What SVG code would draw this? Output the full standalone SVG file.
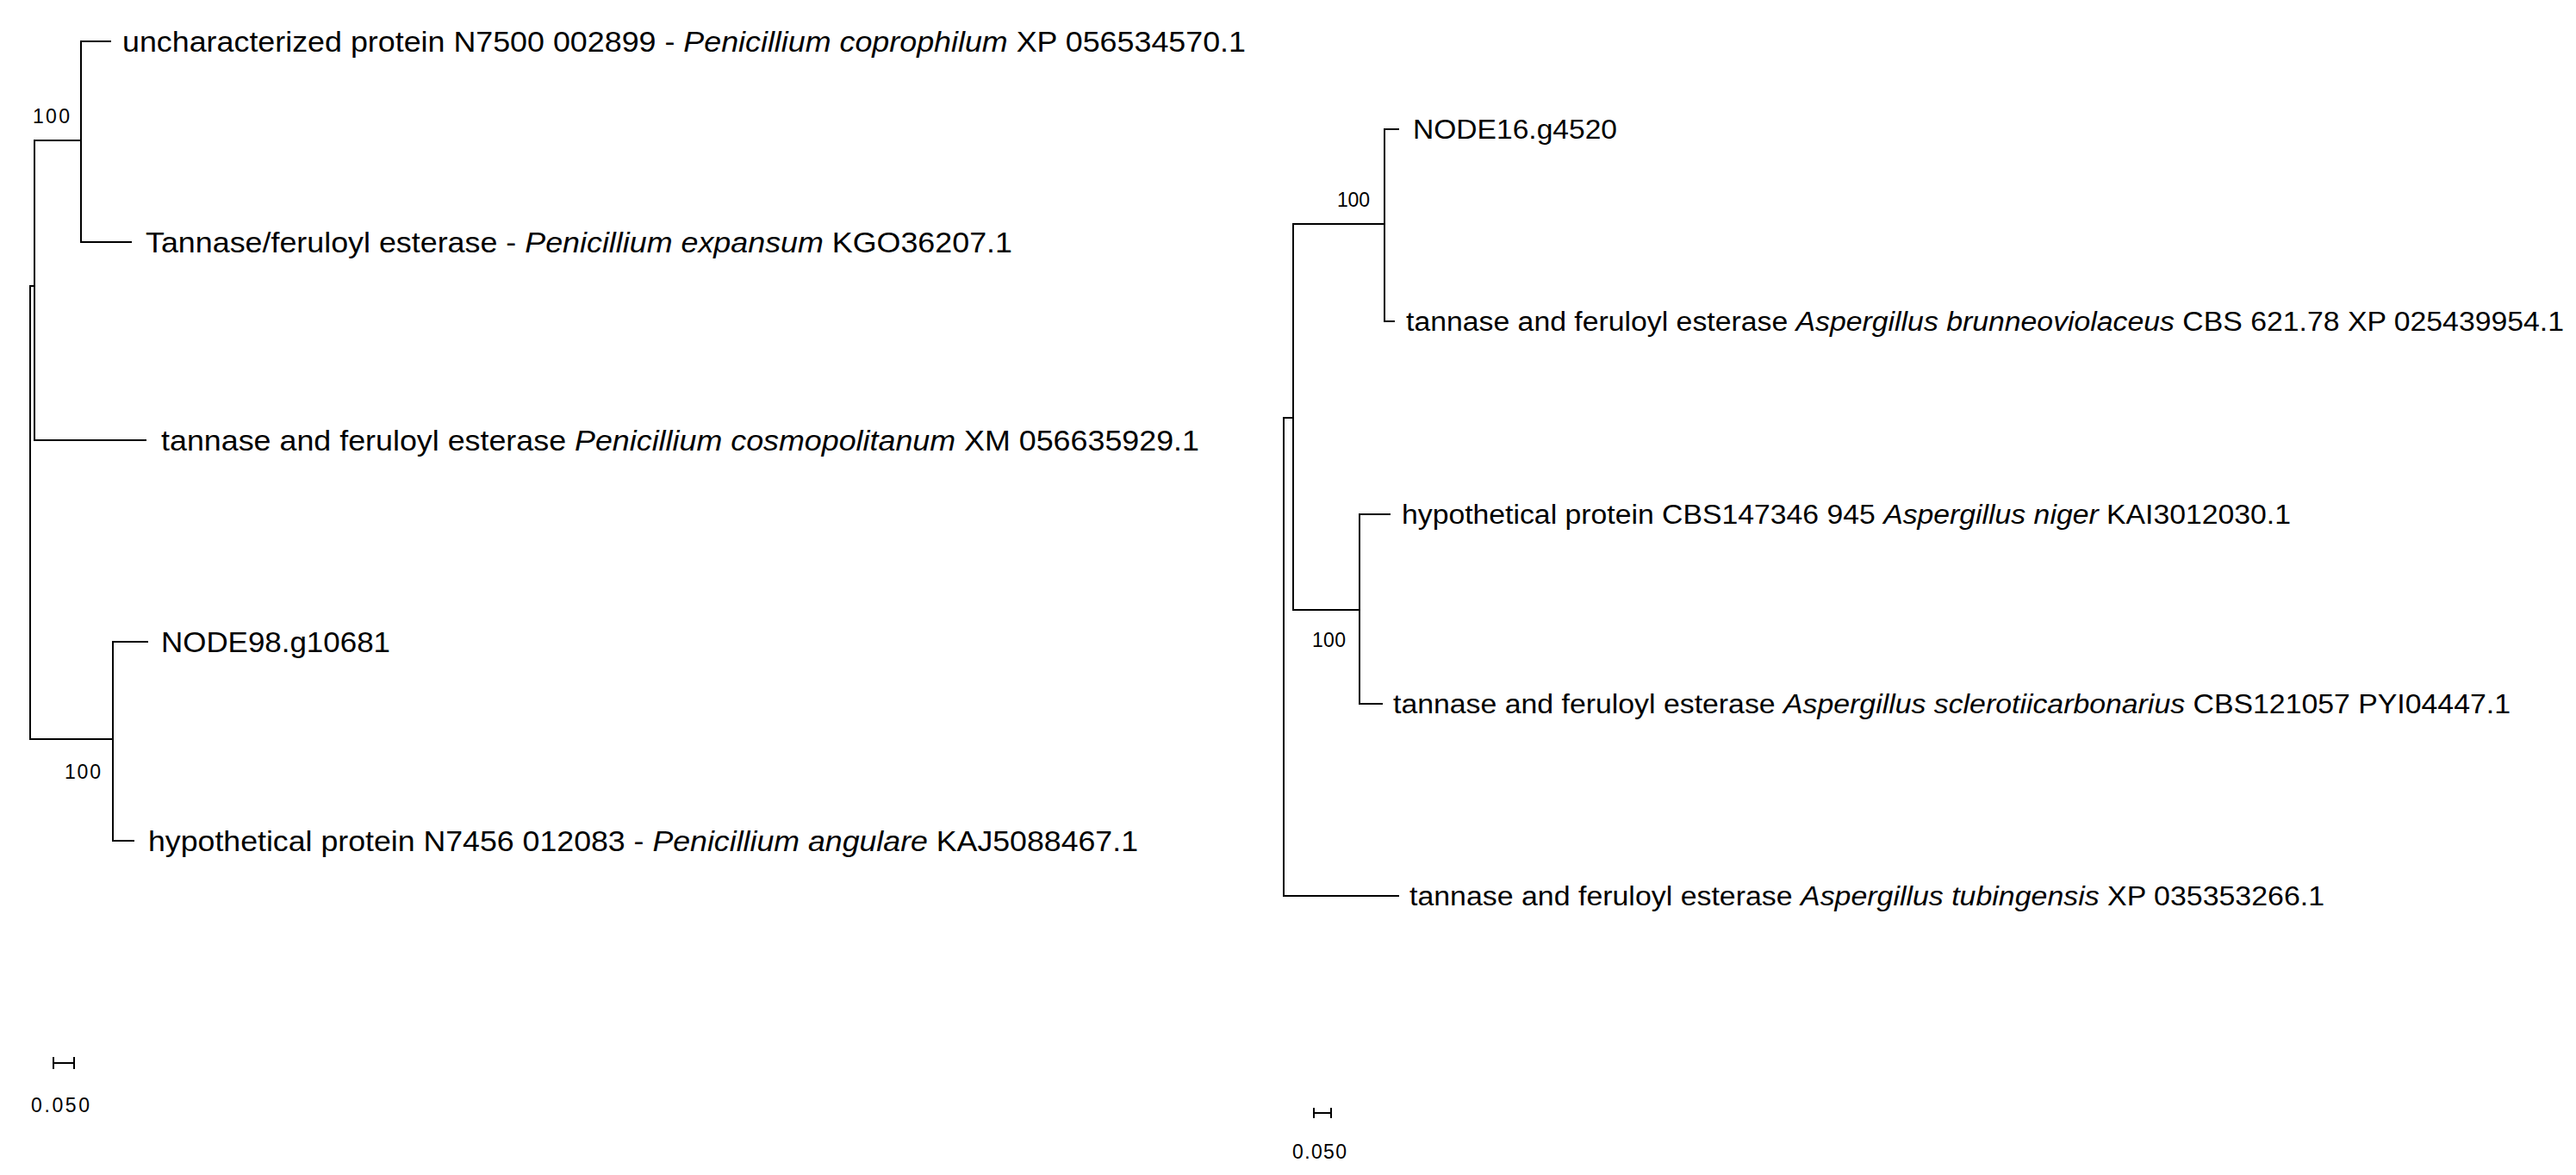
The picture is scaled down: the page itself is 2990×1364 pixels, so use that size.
<svg xmlns="http://www.w3.org/2000/svg" width="2990" height="1364" viewBox="0 0 2990 1364">
<style>
.t{font-family:"Liberation Sans",Arial,sans-serif;font-size:33px;fill:#000}
.r{font-size:31px}
.s{font-family:"Liberation Sans",Arial,sans-serif;font-size:23px;fill:#000}
.i{font-style:italic}
.e{stroke:#000;stroke-width:2;fill:none}
</style>
<rect width="2990" height="1364" fill="#fff"/>
<g id="connectors">
<path class="e" d="M129,48H94V281H153 M94,163H40V511H170 M40,332H35V858H131 M172,745H131V976H156"/>
<path class="e" d="M62,1234H86 M62,1227V1241 M86,1227V1241"/>
<path class="e" d="M1624,150H1607V373H1619 M1607,260H1501V708H1578 M1614,597H1578V817H1605 M1501,485H1490V1040H1624"/>
<path class="e" d="M1525,1292H1545 M1525,1286V1298 M1545,1286V1298"/>
</g>
<g id="n1"><text class="t" x="142" y="60" textLength="1304" lengthAdjust="spacingAndGlyphs">uncharacterized protein N7500 002899 - <tspan class="i">Penicillium  coprophilum</tspan> XP  056534570.1</text></g>
<g id="n2"><text class="t" x="169" y="293" textLength="1006" lengthAdjust="spacingAndGlyphs">Tannase/feruloyl esterase - <tspan class="i">Penicillium  expansum</tspan> KGO36207.1</text></g>
<g id="n3"><text class="t" x="187" y="523" textLength="1205" lengthAdjust="spacingAndGlyphs">tannase and feruloyl esterase <tspan class="i">Penicillium  cosmopolitanum</tspan> XM  056635929.1</text></g>
<g id="n4"><text class="t" x="187" y="757" textLength="266" lengthAdjust="spacingAndGlyphs">NODE98.g10681</text></g>
<g id="n5"><text class="t" x="172" y="988" textLength="1149" lengthAdjust="spacingAndGlyphs">hypothetical protein N7456 012083 - <tspan class="i">Penicillium  angulare</tspan> KAJ5088467.1</text></g>
<g id="b1"><text class="s" x="38" y="143" textLength="43">100</text></g>
<g id="b2"><text class="s" x="75" y="904" textLength="42">100</text></g>
<g id="sc1"><text class="s" x="36" y="1291" textLength="68">0.050</text></g>
<g id="m1"><text class="t r" x="1640" y="161" textLength="237" lengthAdjust="spacingAndGlyphs">NODE16.g4520</text></g>
<g id="m2"><text class="t r" x="1632" y="384" textLength="1344" lengthAdjust="spacingAndGlyphs">tannase and feruloyl esterase <tspan class="i">Aspergillus brunneoviolaceus</tspan> CBS 621.78 XP 025439954.1</text></g>
<g id="m3"><text class="t r" x="1627" y="608" textLength="1032" lengthAdjust="spacingAndGlyphs">hypothetical protein CBS147346 945 <tspan class="i">Aspergillus niger</tspan> KAI3012030.1</text></g>
<g id="m4"><text class="t r" x="1617" y="828" textLength="1297" lengthAdjust="spacingAndGlyphs">tannase and feruloyl esterase <tspan class="i">Aspergillus sclerotiicarbonarius</tspan> CBS121057 PYI04447.1</text></g>
<g id="m5"><text class="t r" x="1636" y="1051" textLength="1062" lengthAdjust="spacingAndGlyphs">tannase and feruloyl esterase <tspan class="i">Aspergillus tubingensis</tspan> XP 035353266.1</text></g>
<g id="b3"><text class="s" x="1552" y="240" textLength="38">100</text></g>
<g id="b4"><text class="s" x="1523" y="751" textLength="39">100</text></g>
<g id="sc2"><text class="s" x="1500" y="1345" textLength="63">0.050</text></g>
</svg>
